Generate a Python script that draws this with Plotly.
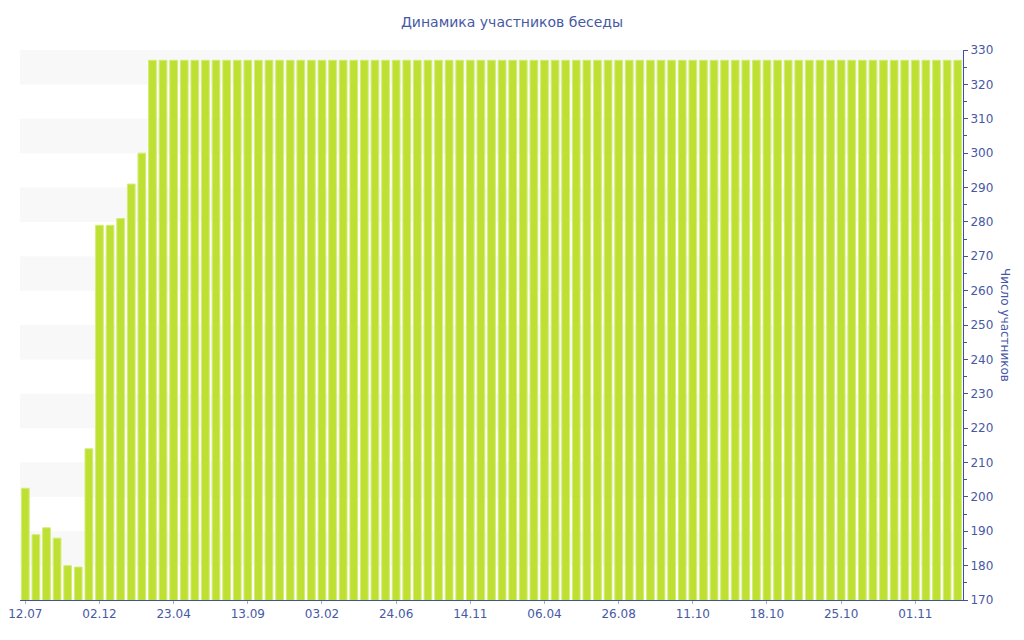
import plotly.graph_objects as go

title_text = "Динамика участников беседы"
y_title = "Число участников"

# participant counts per bar
members = [
    202.5, 189, 191, 188, 180, 179.6, 214, 279, 279, 281, 291, 300,
    327, 327, 327, 327, 327, 327, 327, 327, 327, 327, 327,
    327, 327, 327, 327, 327, 327, 327, 327, 327, 327, 327,
    327, 327, 327, 327, 327, 327, 327, 327, 327, 327, 327,
    327, 327, 327, 327, 327, 327, 327, 327, 327, 327, 327,
    327, 327, 327, 327, 327, 327, 327, 327, 327, 327, 327,
    327, 327, 327, 327, 327, 327, 327, 327, 327, 327, 327,
    327, 327, 327, 327, 327, 327, 327, 327, 327, 327, 327,
]
tick_labels = ["12.07", "02.12", "23.04", "13.09", "03.02", "24.06", "14.11",
               "06.04", "26.08", "11.10", "18.10", "25.10", "01.11"]
tick_step = 7

y_min, y_max = 170, 330
band_starts = [320, 300, 280, 260, 240, 220, 200, 180]

x_idx = list(range(len(members)))
tick_vals = [i * tick_step for i in range(len(tick_labels))]

axis_color = "#3f51a3"
text_color = "#4659a4"
font_family = "DejaVu Sans, Verdana, sans-serif"

fig = go.Figure()
fig.add_trace(go.Bar(
    x=x_idx, y=members,
    marker=dict(color="#bee032", line=dict(color="#d4ec7a", width=1)),
    hoverinfo="y",
))

for b in band_starts:
    fig.add_shape(type="rect", xref="x domain", yref="y", x0=0, x1=1,
                  y0=b, y1=b + 10, fillcolor="#f8f8f8", line_width=0,
                  layer="below")

# page body adds an 8px offset; figure size compensates for it
fig.update_layout(
    width=1016, height=632,
    margin=dict(l=12, r=61, t=42, b=40, autoexpand=False),
    paper_bgcolor="white", plot_bgcolor="white",
    bargap=0.27,
    showlegend=False,
    font=dict(family=font_family, color=text_color, size=12),
    title=dict(text=title_text, x=504 / 1016, xref="container", xanchor="center",
               y=1 - 14 / 632, yanchor="middle",
               font=dict(size=14, color=text_color, family=font_family)),
    xaxis=dict(
        range=[-0.5, len(members) - 0.5],
        tickmode="array", tickvals=tick_vals, ticktext=tick_labels,
        showgrid=False, zeroline=False, automargin=False,
        showline=True, linecolor=axis_color, linewidth=1,
        ticks="outside", ticklen=3, tickcolor="#a8aec4",
        tickfont=dict(size=12, color=text_color),
    ),
    yaxis=dict(
        side="right", range=[y_min, y_max], automargin=False,
        tickmode="linear", tick0=170, dtick=10,
        showgrid=False, zeroline=False,
        showline=True, linecolor=axis_color, linewidth=1,
        ticks="outside", ticklen=4, tickcolor=axis_color,
        minor=dict(ticks="outside", ticklen=3, dtick=5, tickcolor=axis_color),
        tickfont=dict(size=12, color=text_color),
    ),
    annotations=[dict(
        text=y_title, textangle=90, xref="paper", yref="paper",
        x=1.0, xshift=42, y=0.5, xanchor="center", yanchor="middle",
        showarrow=False, font=dict(size=12, color=text_color),
    )],
)

fig.write_html("out.html")
